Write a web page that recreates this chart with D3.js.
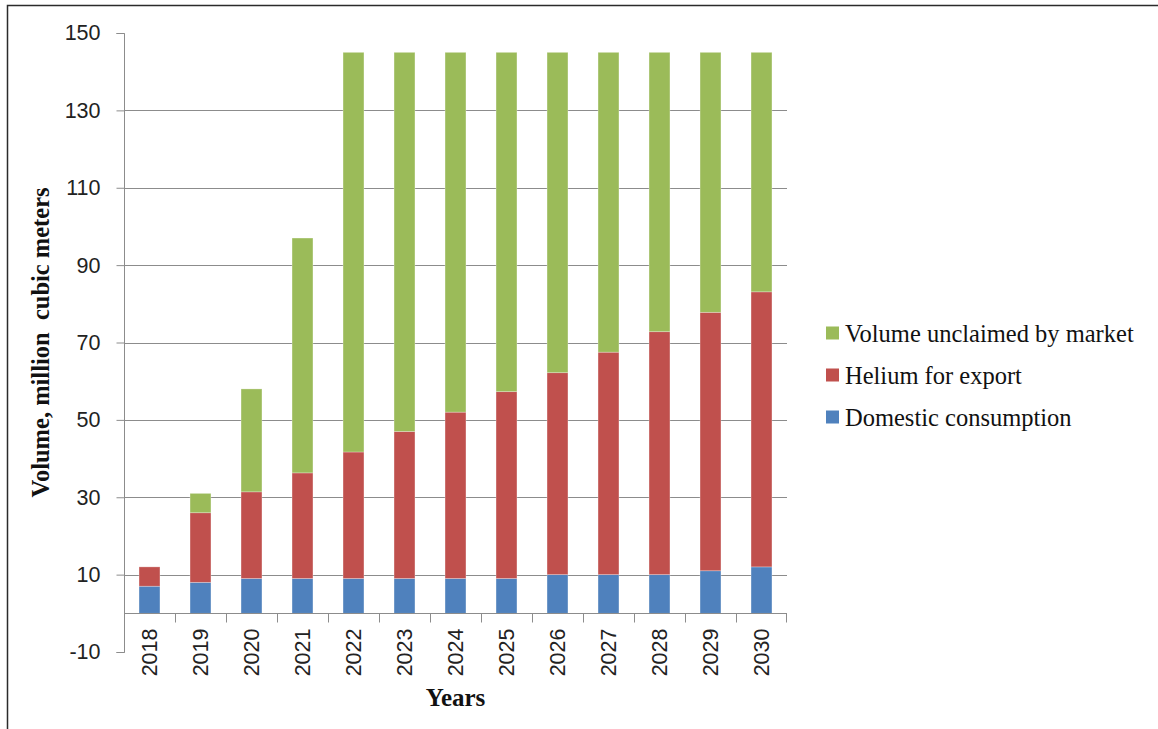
<!DOCTYPE html>
<html>
<head>
<meta charset="utf-8">
<script src="https://cdn.jsdelivr.net/npm/d3@7/dist/d3.min.js"></script>
<style>
  html, body { margin: 0; padding: 0; background: #fff; }
  svg { display: block; }
</style>
</head>
<body>
<div id="chart"></div>
<script>
// Helium balance: stacked columns per year (domestic / export / unclaimed).

const years = ["2018", "2019", "2020", "2021", "2022", "2023", "2024", "2025", "2026", "2027", "2028", "2029", "2030"];
const domestic = [7, 8, 9, 9, 9, 9, 9, 9, 10, 10, 10, 11, 12];
const exportHelium = [5, 18, 22.4, 27.3, 32.7, 38, 43, 48.3, 52.2, 57.5, 62.8, 66.8, 71.1];
const unclaimed = [0, 5, 26.6, 60.7, 103.3, 98, 93, 87.7, 82.8, 77.5, 72.2, 67.2, 61.9];
const yTicks = [-10, 10, 30, 50, 70, 90, 110, 130, 150];

const seriesKeys = ["domestic", "export", "unclaimed"];
const seriesLabels = { domestic: "Domestic consumption", export: "Helium for export", unclaimed: "Volume unclaimed by market" };
const colors = { domestic: "#4F81BD", export: "#C0504D", unclaimed: "#9BBB59" };

const W = 1158, H = 729;
const plot = { left: 124, right: 787, top: 33, bottom: 652 };

const rows = years.map((y, i) => ({ year: y, domestic: domestic[i], export: exportHelium[i], unclaimed: unclaimed[i] }));
const series = d3.stack().keys(seriesKeys)(rows);

const svg = d3.select("#chart").append("svg").attr("width", W).attr("height", H);

// frame (only left/top edges visible in the original crop)
svg.append("path")
  .attr("d", `M7.5,${H} L7.5,5.5 L${W},5.5`)
  .attr("fill", "none").attr("stroke", "#2b2b2b").attr("stroke-width", 1.5);

const x = d3.scaleBand().domain(years).range([plot.left, plot.right]);
const y = d3.scaleLinear().domain([-10, 150]).range([plot.bottom, plot.top]);
const barW = x.bandwidth() * 0.41;

// gridlines (not at the end values)
svg.append("g").selectAll("line")
  .data(yTicks.filter(t => t !== -10 && t !== 150))
  .join("line")
  .attr("x1", plot.left).attr("x2", plot.right)
  .attr("y1", d => Math.round(y(d)) + 0.5).attr("y2", d => Math.round(y(d)) + 0.5)
  .attr("stroke", "#8c8c8c").attr("stroke-width", 1);

// y axis
const gY = svg.append("g")
  .attr("transform", `translate(${plot.left + 0.5},0)`)
  .call(d3.axisLeft(y).tickValues(yTicks).tickSize(8).tickPadding(16).tickFormat(d => String(d)));
gY.select(".domain").attr("stroke", "#8c8c8c").attr("d", `M-8,${Math.round(y(150)) + 0.5}H0V${Math.round(y(-10)) + 0.5}H-8`);
gY.selectAll(".tick line").attr("stroke", "#8c8c8c");
gY.selectAll(".tick text")
  .attr("font-family", "'Liberation Sans', Arial, sans-serif")
  .attr("font-size", 21.5).attr("fill", "#222");

// bars
svg.append("g").selectAll("g")
  .data(series)
  .join("g")
  .attr("fill", s => colors[s.key])
  .selectAll("rect")
  .data(s => s.filter(d => d[1] - d[0] > 0))
  .join("rect")
  .attr("x", d => x(d.data.year) + (x.bandwidth() - barW) / 2)
  .attr("width", barW)
  .attr("y", d => y(d[1]))
  .attr("height", d => y(d[0]) - y(d[1]))
  .attr("stroke", "#ffffff").attr("stroke-opacity", 0.35).attr("stroke-width", 0.8);

// category axis at y = 0
const y0 = Math.round(y(0)) + 0.5;
const gX = svg.append("g").attr("transform", `translate(0,${y0})`);
gX.append("line").attr("x1", plot.left).attr("x2", plot.right).attr("stroke", "#8c8c8c");
gX.selectAll("line.tk")
  .data(years.slice(1).concat(["end"]))
  .join("line")
  .attr("class", "tk")
  .attr("x1", d => d === "end" ? plot.right - 0.5 : Math.round(x(d)) + 0.5)
  .attr("x2", d => d === "end" ? plot.right - 0.5 : Math.round(x(d)) + 0.5)
  .attr("y1", 0).attr("y2", 9)
  .attr("stroke", "#8c8c8c");
gX.selectAll("text")
  .data(years)
  .join("text")
  .attr("transform", d => `translate(${x(d) + x.bandwidth() / 2},${15}) rotate(-90)`)
  .attr("text-anchor", "end")
  .attr("dy", "0.35em")
  .attr("font-family", "'Liberation Sans', Arial, sans-serif")
  .attr("font-size", 21.5).attr("fill", "#222")
  .text(d => d);

// axis titles
svg.append("text")
  .attr("transform", `translate(49,${(plot.top + plot.bottom) / 2}) rotate(-90)`)
  .attr("text-anchor", "middle")
  .attr("font-family", "'Liberation Serif', 'Times New Roman', serif")
  .attr("font-weight", "bold").attr("font-size", 24.5).attr("fill", "#111")
  .attr("xml:space", "preserve")
  .text("Volume, million  cubic meters");

svg.append("text")
  .attr("x", (plot.left + plot.right) / 2).attr("y", 706)
  .attr("text-anchor", "middle")
  .attr("font-family", "'Liberation Serif', 'Times New Roman', serif")
  .attr("font-weight", "bold").attr("font-size", 25).attr("fill", "#111")
  .text("Years");

// legend
const legendOrder = ["unclaimed", "export", "domestic"];
const legend = svg.append("g").attr("transform", "translate(826,333)");
const item = legend.selectAll("g")
  .data(legendOrder)
  .join("g")
  .attr("transform", (d, i) => `translate(0,${i * 42})`);
item.append("rect")
  .attr("x", 0).attr("y", -6.5).attr("width", 13).attr("height", 13)
  .attr("fill", d => colors[d]);
item.append("text")
  .attr("x", 19).attr("dy", "0.35em")
  .attr("font-family", "'Liberation Serif', 'Times New Roman', serif")
  .attr("font-size", 24.5).attr("fill", "#111")
  .text(d => seriesLabels[d]);
</script>
</body>
</html>
